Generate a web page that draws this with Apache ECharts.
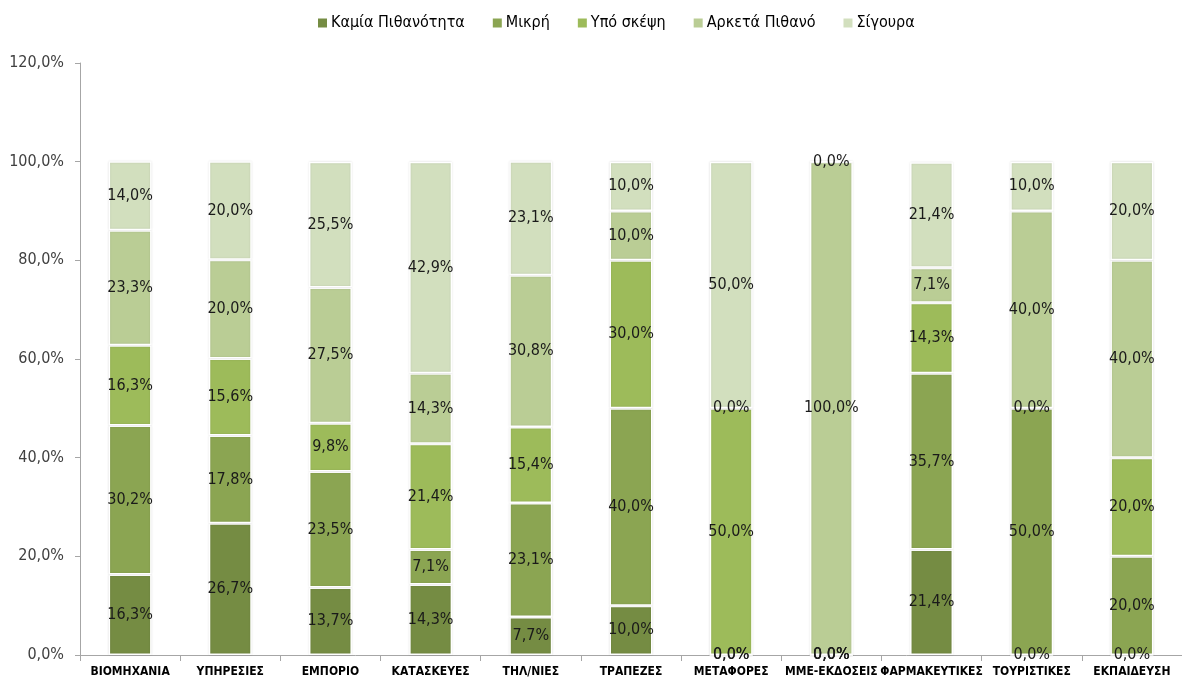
<!DOCTYPE html>
<html>
<head>
<meta charset="utf-8">
<script src="https://cdn.jsdelivr.net/npm/echarts@6/dist/echarts.min.js"></script>
<style>
  html, body { margin: 0; padding: 0; background: #ffffff; }
  #chart { width: 1182px; height: 684px; }
</style>
</head>
<body>
<div id="chart"></div>
<script>
// Sectors on the x axis
const categories = ['ΒΙΟΜΗΧΑΝΙΑ', 'ΥΠΗΡΕΣΙΕΣ', 'ΕΜΠΟΡΙΟ', 'ΚΑΤΑΣΚΕΥΕΣ', 'ΤΗΛ/ΝΙΕΣ', 'ΤΡΑΠΕΖΕΣ',
  'ΜΕΤΑΦΟΡΕΣ', 'ΜΜΕ-ΕΚΔΟΣΕΙΣ', 'ΦΑΡΜΑΚΕΥΤΙΚΕΣ', 'ΤΟΥΡΙΣΤΙΚΕΣ', 'ΕΚΠΑΙΔΕΥΣΗ'];

// Share of answers per sector (percent)
const kamia    = [16.3, 26.7, 13.7, 14.3, 7.7, 10.0, 0.0, 0.0, 21.4, 0.0, 0.0];
const mikri    = [30.2, 17.8, 23.5, 7.1, 23.1, 40.0, 0.0, 0.0, 35.7, 50.0, 20.0];
const ypoSkepsi = [16.3, 15.6, 9.8, 21.4, 15.4, 30.0, 50.0, 0.0, 14.3, 0.0, 20.0];
const arketa   = [23.3, 20.0, 27.5, 14.3, 30.8, 10.0, 0.0, 100.0, 7.1, 40.0, 40.0];
const sigoura  = [14.0, 20.0, 25.5, 42.9, 23.1, 10.0, 50.0, 0.0, 21.4, 10.0, 20.0];

const seriesNames = ['Καμία Πιθανότητα', 'Μικρή', 'Υπό σκέψη', 'Αρκετά Πιθανό', 'Σίγουρα'];
const seriesData = [kamia, mikri, ypoSkepsi, arketa, sigoura];
const seriesColors = ['#758c43', '#8ba552', '#9dbb5a', '#bacd95', '#d2dfbe'];

// Y axis tick values
const yTicks = [0, 20, 40, 60, 80, 100, 120];

const fmt = v => v.toFixed(1).replace('.', ',') + '%';
const FONT = '"Liberation Sans Narrow", "DejaVu Sans Condensed", "Open Sans", sans-serif';

const chart = echarts.init(document.getElementById('chart'));
chart.setOption({
  animation: false,
  textStyle: { fontFamily: FONT },
  legend: {
    top: 10,
    left: 311,
    itemWidth: 11,
    itemHeight: 11,
    itemGap: 26,
    icon: 'rect',
    textStyle: { fontSize: 16, color: '#000', fontFamily: FONT, padding: [0, 0, 0, -2] },
    data: seriesNames
  },
  grid: { left: 80, top: 63, width: 1111, height: 592, containLabel: false },
  xAxis: {
    type: 'category',
    data: categories,
    axisLine: { lineStyle: { color: '#a6a6a6' } },
    axisTick: { show: true, length: 6, lineStyle: { color: '#a6a6a6' } },
    axisLabel: { color: '#000', fontSize: 12, fontWeight: 'bold', margin: 11, interval: 0, fontFamily: FONT }
  },
  yAxis: {
    type: 'value',
    min: 0,
    max: 120,
    interval: 20,
    splitLine: { show: false },
    axisLine: { show: true, lineStyle: { color: '#a6a6a6' } },
    axisTick: { show: true, length: 5, lineStyle: { color: '#a6a6a6' } },
    axisLabel: {
      color: '#404040', fontSize: 16, margin: 16, fontFamily: FONT,
      formatter: v => yTicks.includes(v) ? fmt(v) : ''
    }
  },
  series: seriesData.map((d, i) => ({
    name: seriesNames[i],
    type: 'bar',
    stack: 'total',
    barWidth: 43,
    data: d,
    itemStyle: {
      color: seriesColors[i],
      borderColor: '#ffffff',
      borderWidth: 1.5,
      shadowColor: 'rgba(0,0,0,0.12)',
      shadowBlur: 2
    },
    label: {
      show: true,
      position: 'inside',
      color: '#1a1a1a',
      fontSize: 16,
      fontFamily: FONT,
      formatter: p => fmt(p.value)
    }
  }))
});
</script>
</body>
</html>
